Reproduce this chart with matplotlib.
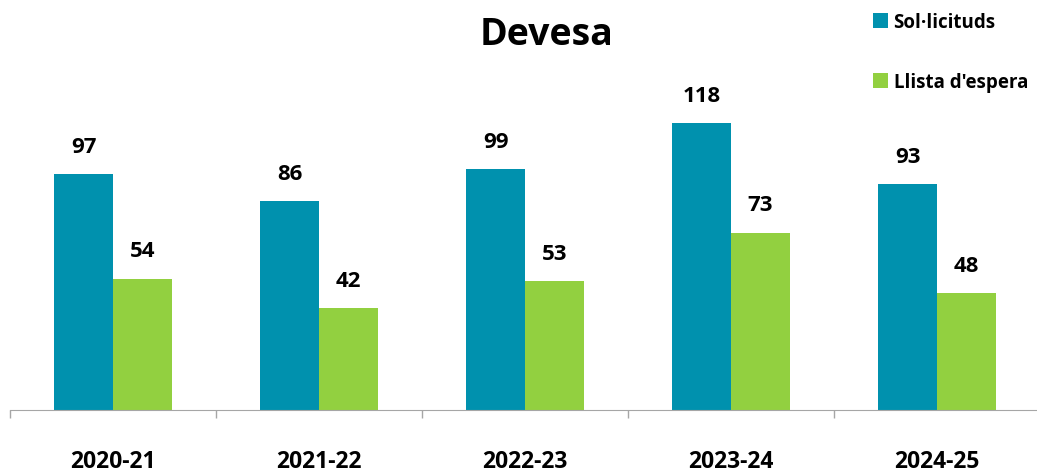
import matplotlib
matplotlib.use('Agg')
import matplotlib.pyplot as plt
import numpy as np

plt.rcParams['font.family'] = ['Open Sans', 'DejaVu Sans']

cursos = ['2020-21', '2021-22', '2022-23', '2023-24', '2024-25']
sollicituds = [97, 86, 99, 118, 93]
llista_espera = [54, 42, 53, 73, 48]

BLUE = '#0091AE'
GREEN = '#92D040'

fig = plt.figure(figsize=(10.37, 4.77), dpi=100)
ax = fig.add_axes([10 / 1037, 1 - 411 / 477, 1030 / 1037, 389 / 477])

x = np.arange(len(cursos))
w = 0.286
b1 = ax.bar(x - w / 2, sollicituds, w, color=BLUE, label='Sol·licituds')
b2 = ax.bar(x + w / 2, llista_espera, w, color=GREEN, label="Llista d'espera")

for bars, vals in ((b1, sollicituds), (b2, llista_espera)):
    for rect, v in zip(bars, vals):
        ax.annotate(str(v), (rect.get_x() + rect.get_width() / 2, v),
                    xytext=(0, 20), textcoords='offset points',
                    ha='center', va='center', fontsize=16, fontweight='bold')

ax.set_xlim(-0.5, len(cursos) - 0.5)
ax.set_ylim(0, 160)
ax.set_yticks([])
for s in ('left', 'right', 'top'):
    ax.spines[s].set_visible(False)
ax.spines['bottom'].set_color('#A6A6A6')

# tick marks sit on category boundaries, labels in the middle
ax.set_xticks(np.arange(-0.5, len(cursos)))
ax.set_xticklabels([])
ax.tick_params(axis='x', length=6, color='#A6A6A6', width=1)
for i, c in enumerate(cursos):
    ax.text(i, -0.132, c, transform=ax.get_xaxis_transform(),
            ha='center', va='center', fontsize=16.5, fontweight='bold')

fig.text(547 / 1037, 1 - 35 / 477, 'Devesa', ha='center', va='center',
         fontsize=27, fontweight='bold')

fig.legend(handles=[b1, b2], loc='upper left',
           bbox_to_anchor=(873 / 1037, 1 - 13 / 477), frameon=False,
           prop={'size': 13.5, 'weight': 'bold'}, handlelength=0.8,
           handleheight=0.8, handletextpad=0.3, labelspacing=2.14,
           borderaxespad=0, borderpad=0)

fig.savefig('out.png', dpi=100)
